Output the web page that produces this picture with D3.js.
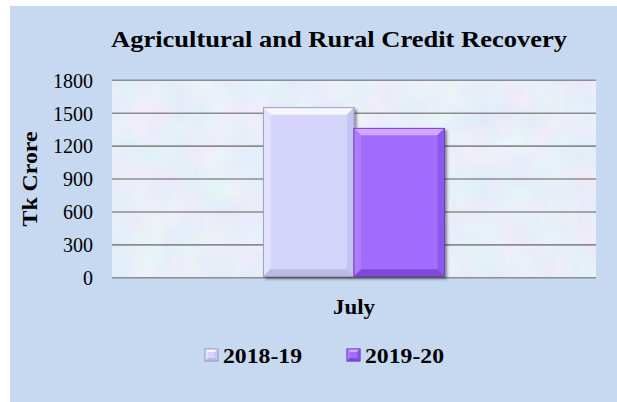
<!DOCTYPE html>
<html>
<head>
<meta charset="utf-8">
<script src="https://cdn.jsdelivr.net/npm/d3@7"></script>
<style>
  html, body { margin: 0; padding: 0; background: #fff; }
  svg { display: block; }
  text { font-family: "Liberation Serif", "Times New Roman", serif; fill: #000; }
</style>
</head>
<body>
<div id="chart"></div>
<script>
const categories = ["July"];
const seriesNames = ["2018-19", "2019-20"];
const values2018 = [1550];
const values2019 = [1362];
const yTicks = [0, 300, 600, 900, 1200, 1500, 1800];

const seriesColors = {
  "2018-19": { face: "#d5d5fc", top: "#f6f6ff", left: "#e2e2fd", right: "#c4c4f0", bottom: "#babae6", edge: "#9a9ac8" },
  "2019-20": { face: "#a26cfd", top: "#d6a6ff", left: "#b07cff", right: "#8c58ec", bottom: "#8048dc", edge: "#6a3cc0" }
};

const W = 617, H = 402;
const plot = { left: 112, right: 596, top: 80.3, bottom: 277.8 };

const svg = d3.select("#chart").append("svg")
  .attr("width", W).attr("height", H);

const defs = svg.append("defs");

// mottled texture for plot area
const tex = defs.append("filter").attr("id", "mottle")
  .attr("x", 0).attr("y", 0).attr("width", "100%").attr("height", "100%");
tex.append("feTurbulence").attr("type", "fractalNoise")
  .attr("baseFrequency", "0.03").attr("numOctaves", 3).attr("seed", 4).attr("result", "noise");
tex.append("feColorMatrix").attr("in", "noise").attr("type", "matrix")
  .attr("values", "0.22 0 0 0 0.70  0 0.14 0 0 0.79  0 0 0.08 0 0.90  0 0 0 0 1")
  .attr("result", "col");
tex.append("feComposite").attr("in", "col").attr("in2", "SourceGraphic").attr("operator", "in");

const shadow = defs.append("filter").attr("id", "shadow")
  .attr("x", "-10%").attr("y", "-10%").attr("width", "130%").attr("height", "130%");
shadow.append("feGaussianBlur").attr("in", "SourceAlpha").attr("stdDeviation", 1.5).attr("result", "b");
shadow.append("feOffset").attr("in", "b").attr("dx", 2).attr("dy", 2).attr("result", "o");
shadow.append("feComponentTransfer").attr("in", "o").attr("result", "s")
  .append("feFuncA").attr("type", "linear").attr("slope", 0.45);
const sm = shadow.append("feMerge");
sm.append("feMergeNode").attr("in", "s");
sm.append("feMergeNode").attr("in", "SourceGraphic");

// chart background
svg.append("rect")
  .attr("x", 10).attr("y", 6).attr("width", W - 10).attr("height", H - 6)
  .attr("fill", "#c6d9f0");

// plot area
svg.append("rect")
  .attr("x", plot.left).attr("y", plot.top)
  .attr("width", plot.right - plot.left).attr("height", plot.bottom - plot.top)
  .attr("fill", "#d3dcf3")
  .attr("filter", "url(#mottle)");

const y = d3.scaleLinear().domain([0, 1800]).range([plot.bottom, plot.top]);

const x0 = d3.scaleBand().domain(categories)
  .range([plot.left, plot.right]).paddingInner(0).paddingOuter(0.837);
const x1 = d3.scaleBand().domain(seriesNames).range([0, x0.bandwidth()]).padding(0);

// grid lines
svg.append("g").selectAll("line").data(yTicks).join("line")
  .attr("x1", plot.left).attr("x2", plot.right)
  .attr("y1", d => y(d)).attr("y2", d => y(d))
  .attr("stroke", "#8c8c8c").attr("stroke-width", 1.6);

// y axis tick labels
const yAxis = d3.axisLeft(y).tickValues(yTicks).tickFormat(d3.format("d")).tickSize(0).tickPadding(0);
const yg = svg.append("g").attr("transform", `translate(${plot.left - 19},0)`).call(yAxis);
yg.select(".domain").remove();
yg.selectAll("text")
  .attr("font-family", "Liberation Serif, Times New Roman, serif")
  .attr("font-size", 20).attr("fill", "#000").attr("dy", "0.34em");

// beveled bar drawing
function bevelBar(g, bx, by, bw, bh, c, b) {
  const x2 = bx + bw, y2 = by + bh;
  g.append("rect").attr("x", bx).attr("y", by).attr("width", bw).attr("height", bh)
    .attr("fill", c.face).attr("stroke", c.edge).attr("stroke-width", 0.8);
  const poly = (pts, fill) => g.append("polygon")
    .attr("points", pts.map(p => p.join(",")).join(" ")).attr("fill", fill);
  poly([[bx, by], [x2, by], [x2 - b, by + b], [bx + b, by + b]], c.top);
  poly([[bx, by], [bx + b, by + b], [bx + b, y2 - b], [bx, y2]], c.left);
  poly([[x2, by], [x2, y2], [x2 - b, y2 - b], [x2 - b, by + b]], c.right);
  poly([[bx, y2], [bx + b, y2 - b], [x2 - b, y2 - b], [x2, y2]], c.bottom);
  g.append("rect").attr("x", bx).attr("y", by).attr("width", bw).attr("height", bh)
    .attr("fill", "none").attr("stroke", c.edge).attr("stroke-width", 0.8);
}

const rows = categories.map((cat, i) => ({
  cat, vals: [
    { key: "2018-19", v: values2018[i] },
    { key: "2019-20", v: values2019[i] }
  ]
}));

const barsG = svg.append("g").attr("filter", "url(#shadow)");
rows.forEach(r => {
  r.vals.forEach(d => {
    const bx = x0(r.cat) + x1(d.key);
    const by = y(d.v);
    bevelBar(barsG, bx, by, x1.bandwidth(), y(0) - by - 1.5, seriesColors[d.key], 7);
  });
});

// category label
svg.append("g").selectAll("text").data(categories).join("text")
  .attr("x", d => x0(d) + x0.bandwidth() / 2)
  .attr("y", 314)
  .attr("text-anchor", "middle")
  .attr("font-size", 21).attr("font-weight", "bold")
  .attr("textLength", 42).attr("lengthAdjust", "spacingAndGlyphs")
  .text(d => d);

// title
svg.append("text")
  .attr("x", 339).attr("y", 47)
  .attr("text-anchor", "middle")
  .attr("font-size", 24).attr("font-weight", "bold")
  .attr("textLength", 456).attr("lengthAdjust", "spacingAndGlyphs")
  .text("Agricultural and Rural Credit Recovery");

// y axis title
svg.append("text")
  .attr("transform", "translate(37,179) rotate(-90)")
  .attr("text-anchor", "middle")
  .attr("font-size", 22).attr("font-weight", "bold")
  .attr("textLength", 95).attr("lengthAdjust", "spacingAndGlyphs")
  .text("Tk Crore");

// legend
const legendX = [205, 347];
const legend = svg.append("g");
seriesNames.forEach((name, i) => {
  const g = legend.append("g");
  bevelBar(g, legendX[i], 349, 13, 12, seriesColors[name], 3);
  g.append("text")
    .attr("x", legendX[i] + 18).attr("y", 363)
    .attr("font-size", 22).attr("font-weight", "bold")
    .attr("textLength", 79).attr("lengthAdjust", "spacingAndGlyphs")
    .text(name);
});
</script>
</body>
</html>
